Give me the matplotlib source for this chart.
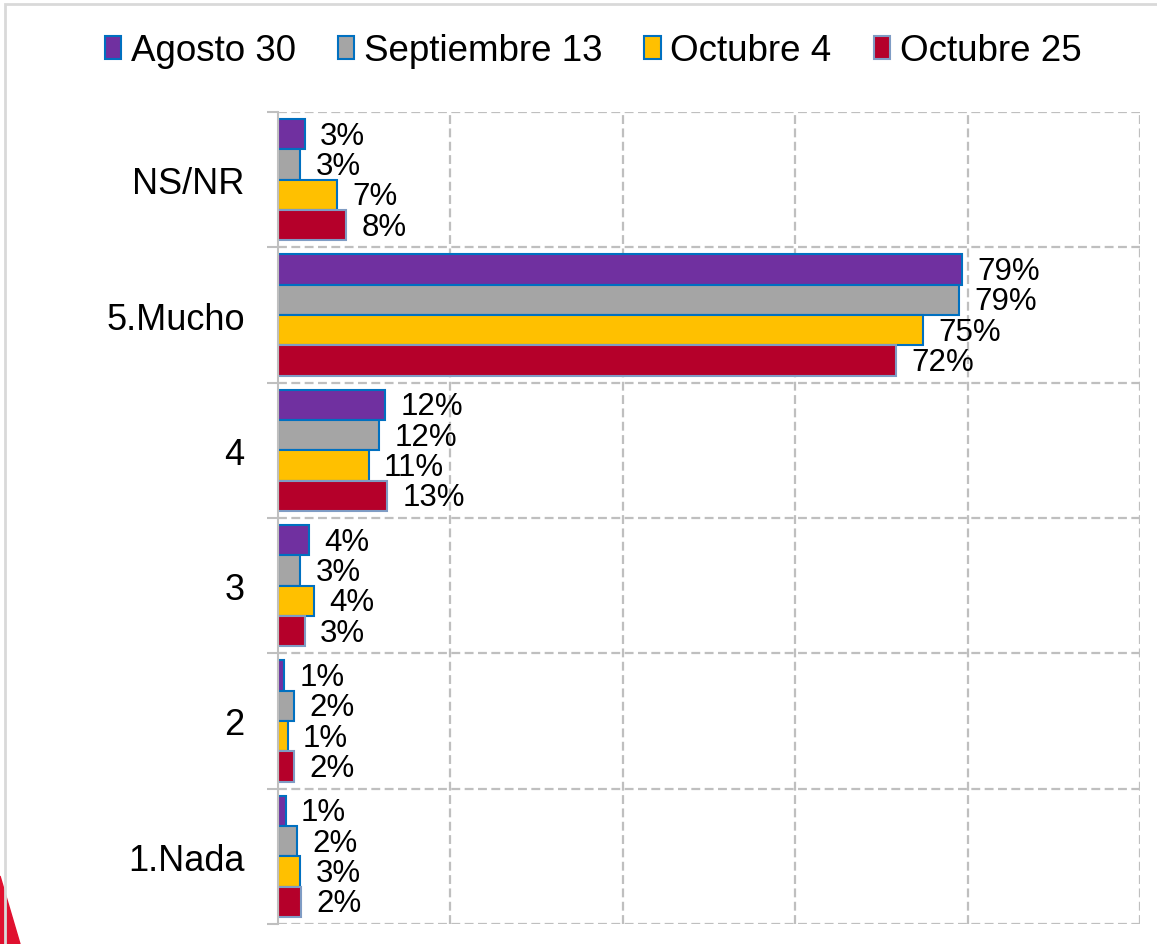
import matplotlib.pyplot as plt
from matplotlib.patches import Polygon, Rectangle
import numpy as np

plt.rcParams['font.family'] = ['Liberation Sans', 'DejaVu Sans']

# categories bottom -> top
categories = ['1.Nada', '2', '3', '4', '5.Mucho', 'NS/NR']
series = ['Agosto 30', 'Septiembre 13', 'Octubre 4', 'Octubre 25']
agosto_30 = [0.009, 0.007, 0.036, 0.124, 0.794, 0.031]
septiembre_13 = [0.022, 0.019, 0.026, 0.117, 0.790, 0.026]
octubre_4 = [0.026, 0.011, 0.042, 0.105, 0.748, 0.068]
octubre_25 = [0.027, 0.019, 0.031, 0.127, 0.717, 0.079]
labels_agosto = ['1%', '1%', '4%', '12%', '79%', '3%']
labels_sept = ['2%', '2%', '3%', '12%', '79%', '3%']
labels_oct4 = ['3%', '1%', '4%', '11%', '75%', '7%']
labels_oct25 = ['2%', '2%', '3%', '13%', '72%', '8%']

values = [agosto_30, septiembre_13, octubre_4, octubre_25]
labels = [labels_agosto, labels_sept, labels_oct4, labels_oct25]
colors = ['#7030A0', '#A5A5A5', '#FFC000', '#B5002A']
edges = ['#0070C0', '#0070C0', '#0070C0', '#7F9CC4']

fig = plt.figure(figsize=(11.57, 9.45), dpi=100)
ax = fig.add_axes([0.2403, 0.0212, 0.7450, 0.8592])

y = np.arange(len(categories))
h = 0.224
for i, (vals, labs) in enumerate(zip(values, labels)):
    ypos = y + (1.5 - i) * h
    bars = ax.barh(ypos, vals, height=h, color=colors[i], edgecolor=edges[i],
                   linewidth=1.5, label=series[i], zorder=3)
    for yy, v, t in zip(ypos, vals, labs):
        ax.annotate(t, (v, yy), xytext=(11, -1), textcoords='offset points',
                    va='center', ha='left', fontsize=22.5, color='black')

ax.set_xlim(0, 1.0)
ax.set_ylim(-0.5, len(categories) - 0.5)
ax.set_xticks(np.arange(0.2, 1.01, 0.2))
ax.set_xticklabels([])
ax.tick_params(axis='x', length=0)
ax.set_yticks(y)
ax.set_yticklabels(categories, fontsize=26)
ax.tick_params(axis='y', which='major', length=0, pad=24)
ax.set_yticks(np.arange(-0.5, len(categories), 1.0), minor=True)
ax.tick_params(axis='y', which='minor', length=8, width=1.5, color='#BFBFBF')

dash = (0, (4, 2))
ax.grid(axis='x', color='#BFBFBF', linestyle=dash, linewidth=1.6, zorder=0)
ax.grid(axis='y', which='minor', color='#BFBFBF', linestyle=dash,
        linewidth=1.6, zorder=0)
ax.grid(axis='y', which='major', visible=False)
for s in ['top', 'right', 'bottom']:
    ax.spines[s].set_visible(False)
ax.spines['left'].set_color('#BFBFBF')
ax.spines['left'].set_linewidth(1.5)
ax.spines['left'].set_zorder(4)

fig.legend(loc='center', bbox_to_anchor=(0.5125, 0.945), ncol=4, frameon=False,
           fontsize=26.5, handlelength=0.45, handleheight=0.6,
           handletextpad=0.25, columnspacing=1.15, borderpad=0)

# page decoration: light border and red corner shape
fig.patches.append(Polygon([(0, 0), (20 / 1157, 0), (0, 68 / 945)], closed=True,
                           transform=fig.transFigure, color='#E0102F', zorder=0))
fig.patches.append(Rectangle((5 / 1157, -0.1), 1.2, 1.1 - 5 / 945, fill=False,
                             edgecolor='#D9D9D9', linewidth=2,
                             transform=fig.transFigure, zorder=1))

plt.savefig('out.png', dpi=100)
